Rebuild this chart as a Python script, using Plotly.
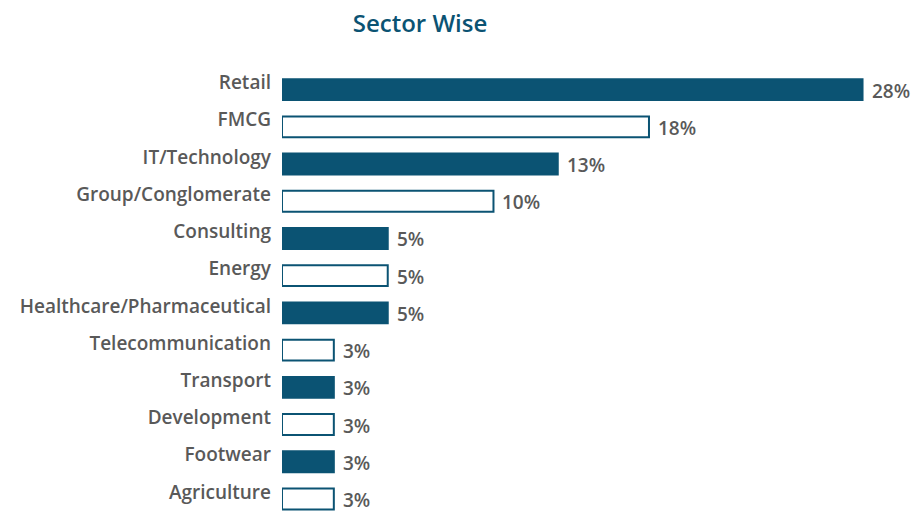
import plotly.graph_objects as go

categories = ["Retail", "FMCG", "IT/Technology", "Group/Conglomerate", "Consulting", "Energy",
              "Healthcare/Pharmaceutical", "Telecommunication", "Transport", "Development",
              "Footwear", "Agriculture"]
values = [28, 17.7, 13.3, 10.2, 5.1, 5.1, 5.1, 2.5, 2.5, 2.5, 2.5, 2.5]
labels = ["28%", "18%", "13%", "10%", "5%", "5%", "5%", "3%", "3%", "3%", "3%", "3%"]
filled = [True, False, True, False, True, False, True, False, True, False, True, False]

BLUE = "#0b5373"
GRAY = "#595959"
FONT = "Open Sans"

fill_colors = [BLUE if f else "white" for f in filled]

fig = go.Figure()
fig.add_trace(go.Bar(
    x=values, y=categories, orientation="h",
    marker=dict(color=fill_colors, line=dict(color=BLUE, width=2)),
    width=0.56, hoverinfo="skip",
))

for v, c, t in zip(values, categories, labels):
    fig.add_annotation(x=v, y=c, text=t, showarrow=False, xanchor="left",
                       xshift=7, yshift=-1,
                       font=dict(family=FONT, size=19, color=GRAY, weight=600))

fig.update_layout(
    width=916, height=512,
    margin=dict(l=282, r=12, t=71, b=0, autoexpand=False),
    paper_bgcolor="white", plot_bgcolor="white",
    showlegend=False,
    title=dict(text="Sector Wise", x=420/916, xref="container", xanchor="center",
               y=1 - 24/512, yref="container", yanchor="middle",
               font=dict(family=FONT, size=24, color=BLUE, weight=600)),
    xaxis=dict(range=[0, 30], visible=False, fixedrange=True, automargin=False),
    yaxis=dict(categoryorder="array", categoryarray=categories, automargin=False,
               range=[11.35, -0.5], showgrid=False, zeroline=False, showline=False,
               ticks="", ticklabelstandoff=10, ticklabelshift=7, fixedrange=True,
               tickfont=dict(family=FONT, size=19, color=GRAY, weight=600)),
)

fig.write_html("out.html", config={"displayModeBar": False},
               post_script="document.body.style.margin='0';")
